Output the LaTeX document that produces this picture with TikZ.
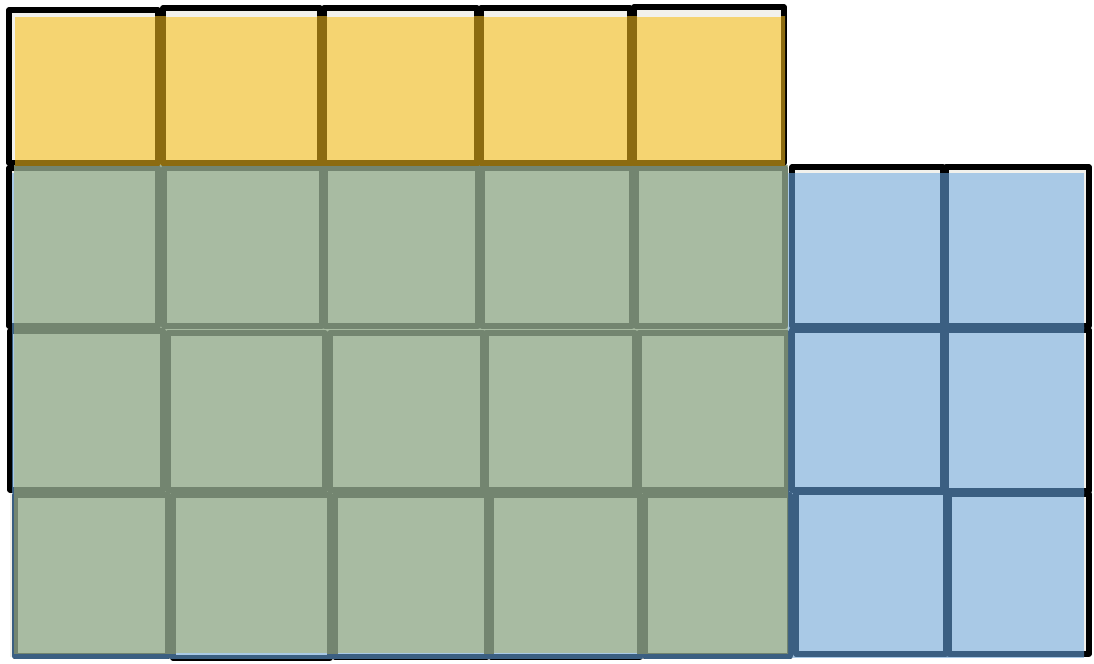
\documentclass[tikz,border=0pt]{standalone}
\usetikzlibrary{calc}
\definecolor{yfill}{HTML}{F5D471}
\definecolor{yline}{HTML}{8C6B10}
\definecolor{gfill}{HTML}{A8BBA2}
\definecolor{gline}{HTML}{738570}
\definecolor{bfill}{HTML}{A9C9E6}
\definecolor{bline}{HTML}{3B5F82}
\definecolor{paper}{HTML}{F2F1EC}
\tikzset{cellbox/.style={line width=3.8pt, line join=round}}
\newcommand{\drawallcells}[1]{%
  \foreach \a/\b/\c/\d in {
    9/10/158/163, 163/8/320/163, 324/8/477/163, 481/8/630/163, 634/7/784/163,
    9/168/158/326, 164/168/322/326, 325/168/478/326, 482/168/632/326, 636/168/785/326,
    10/331/163/490, 168/333/325/490, 330/333/483/490, 486/333/635/490, 639/333/787/490,
    15/495/168/656, 173/495/330/658, 335/495/487/657, 491/495/640/657, 645/495/790/656,
    792/167/943/326, 946/167/1089/326,
    792/330/943/490, 946/330/1089/491,
    796/492/946/654, 949/494/1089/654}
  {\draw[cellbox,#1] (\a,\b) rectangle (\c,\d);}%
}
\begin{document}
\begin{tikzpicture}[x=0.75pt,y=-0.75pt]
\useasboundingbox (0,0) rectangle (1094,663);
\fill[white] (0,0) rectangle (1094,663);
% paper inside the squares
\fill[paper] (10,10) rectangle (784,163);
\fill[paper] (790,167) rectangle (1089,656);
\fill[paper] (10,168) rectangle (790,657);
% hand-drawn black squares
\drawallcells{black}
% blue overlay
\fill[bfill] (12,173) rectangle (1084,658);
\begin{scope}
  \clip (12,173) rectangle (1084,658);
  \drawallcells{bline}
\end{scope}
% green overlay
\fill[gfill] (14,165) rectangle (788,653);
\begin{scope}
  \clip (14,165) rectangle (788,653);
  \drawallcells{gline}
\end{scope}
% yellow overlay
\fill[yfill] (15,17) rectangle (785,165);
\begin{scope}
  \clip (15,17) rectangle (785,165);
  \drawallcells{yline}
\end{scope}
\end{tikzpicture}
\end{document}
